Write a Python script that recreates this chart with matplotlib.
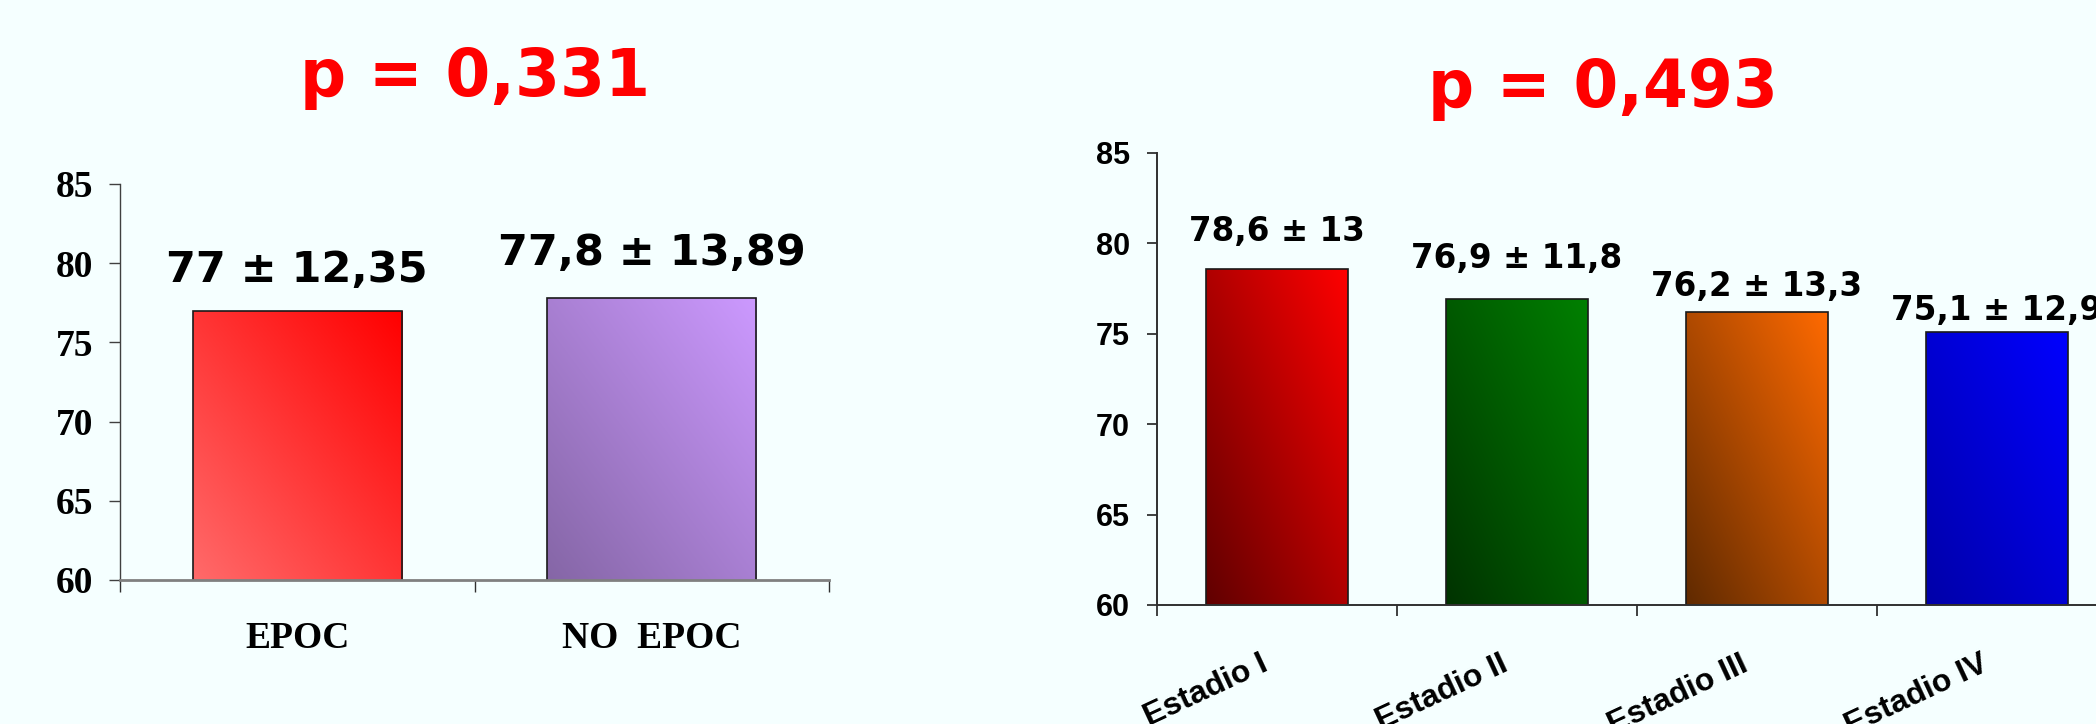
import numpy as np
import matplotlib
matplotlib.use("Agg")
import matplotlib.pyplot as plt
from matplotlib.colors import to_rgb

# ---------------- data ----------------
left_categories = ["EPOC", "NO  EPOC"]
left_values = [77.0, 77.8]
left_labels = ["77 ± 12,35", "77,8 ± 13,89"]
left_title = "p = 0,331"

right_categories = ["Estadio I", "Estadio II", "Estadio III", "Estadio IV"]
right_values = [78.6, 76.9, 76.2, 75.1]
right_labels = ["78,6 ± 13", "76,9 ± 11,8", "76,2 ± 13,3", "75,1 ± 12,9"]
right_title = "p = 0,493"

y_ticks = [60, 65, 70, 75, 80, 85]

# ---------------- style ----------------
BG = "#F5FFFF"
left_c0 = ["#FF6A6A", "#8566A6"]
left_c1 = ["#FF0000", "#CC99FF"]
right_c0 = ["#600000", "#003300", "#602A00", "#0000A8"]
right_c1 = ["#FF0000", "#008000", "#FF6A00", "#0000FF"]
left_label_off_px = [29, 33]
right_label_off_px = [28, 31, 16, 12]

DPI = 100
PX = 72.0 / DPI  # points per pixel

fig = plt.figure(figsize=(20.96, 7.24), dpi=DPI, facecolor=BG)


def gradient_bars(ax, bars, c0s, c1s, ymin):
    for bar, c0, c1 in zip(bars, c0s, c1s):
        x, w = bar.get_x(), bar.get_width()
        y0 = max(bar.get_y(), ymin)
        y1 = bar.get_y() + bar.get_height()
        u = np.linspace(0, 1, 80)
        v = np.linspace(0, 1, 160)
        U, V = np.meshgrid(u, v)
        t = ((U + V) / 2.0)[..., None]
        img = np.array(to_rgb(c0)) * (1 - t) + np.array(to_rgb(c1)) * t
        im = ax.imshow(img, extent=[x, x + w, y0, y1], origin="lower",
                       aspect="auto", zorder=2, interpolation="bilinear")
        im.set_clip_path(bar)


# ---------------- left chart ----------------
axL = fig.add_axes([120 / 2096, 1 - 580 / 724, 709 / 2096, 396 / 724])
axL.set_facecolor(BG)
xL = np.arange(len(left_categories))
barsL = axL.bar(xL, left_values, width=0.59, color="none",
                edgecolor="#1a1a1a", linewidth=1.2, zorder=3)
gradient_bars(axL, barsL, left_c0, left_c1, y_ticks[0])
axL.set_xlim(-0.5, len(left_categories) - 0.5)
axL.set_ylim(y_ticks[0], y_ticks[-1])
axL.set_yticks(y_ticks)
axL.set_yticklabels([str(v) for v in y_ticks],
                    fontfamily="Liberation Serif", fontweight="bold", fontsize=27)
axL.set_xticks(np.arange(-0.5, len(left_categories), 1.0))
axL.set_xticklabels([])
axL.tick_params(axis="y", direction="out", length=8, width=1.0,
                color="#404040", pad=11.5)
axL.tick_params(axis="x", direction="out", length=8.5, width=1.0,
                color="#303030")
for s in ["top", "right"]:
    axL.spines[s].set_visible(False)
axL.spines["left"].set_color("#404040")
axL.spines["left"].set_linewidth(1.0)
axL.spines["bottom"].set_color("#808080")
axL.spines["bottom"].set_linewidth(2.0)
axL.spines["bottom"].set_zorder(4)

for i, (v, lab) in enumerate(zip(left_values, left_labels)):
    axL.annotate(lab, (xL[i], v), xytext=(0, left_label_off_px[i] * PX),
                 textcoords="offset points", ha="center", va="baseline",
                 fontfamily="DejaVu Sans", fontweight="bold", fontsize=31,
                 color="black", zorder=5)
for i, cat in enumerate(left_categories):
    axL.annotate(cat, (xL[i], 0), xycoords=("data", "axes fraction"),
                 xytext=(0, -41 * PX), textcoords="offset points",
                 ha="center", va="top", fontfamily="Liberation Serif",
                 fontweight="bold", fontsize=27, color="black")

fig.text(475 / 2096, 1 - 96 / 724, left_title, ha="center", va="baseline",
         fontfamily="DejaVu Sans", fontweight="bold", fontsize=46.5, color="#FF0000")

# ---------------- right chart ----------------
axR = fig.add_axes([1157 / 2096, 1 - 605 / 724, 960 / 2096, 452 / 724])
axR.set_facecolor(BG)
xR = np.arange(len(right_categories))
barsR = axR.bar(xR, right_values, width=0.59, color="none",
                edgecolor="#1a1a1a", linewidth=1.2, zorder=3)
gradient_bars(axR, barsR, right_c0, right_c1, y_ticks[0])
axR.set_xlim(-0.5, len(right_categories) - 0.5)
axR.set_ylim(y_ticks[0], y_ticks[-1])
axR.set_yticks(y_ticks)
axR.set_yticklabels([str(v) for v in y_ticks],
                    fontfamily="Liberation Sans", fontweight="bold", fontsize=22)
axR.set_xticks(np.arange(-0.5, len(right_categories), 1.0))
axR.set_xticklabels([])
axR.tick_params(axis="y", direction="out", length=7.5, width=1.2,
                color="#202020", pad=12)
axR.tick_params(axis="x", direction="out", length=8, width=1.2,
                color="#202020")
for s in ["top", "right"]:
    axR.spines[s].set_visible(False)
for s in ["left", "bottom"]:
    axR.spines[s].set_color("#303030")
    axR.spines[s].set_linewidth(1.4)
axR.spines["bottom"].set_zorder(4)

for i, (v, lab) in enumerate(zip(right_values, right_labels)):
    axR.annotate(lab, (xR[i], v), xytext=(0, right_label_off_px[i] * PX),
                 textcoords="offset points", ha="center", va="baseline",
                 fontfamily="DejaVu Sans", fontweight="bold", fontsize=23.5,
                 color="black", zorder=5, annotation_clip=False)
for i, cat in enumerate(right_categories):
    axR.annotate(cat, (xR[i], 0), xycoords=("data", "axes fraction"),
                 xytext=(-17 * PX, -44 * PX), textcoords="offset points",
                 ha="right", va="top", rotation=25, rotation_mode="anchor",
                 fontfamily="Liberation Sans", fontweight="bold", fontsize=23,
                 color="black")

fig.text(1603 / 2096, 1 - 107 / 724, right_title, ha="center", va="baseline",
         fontfamily="DejaVu Sans", fontweight="bold", fontsize=46.5, color="#FF0000")

fig.savefig("out.png", dpi=DPI, facecolor=BG)
